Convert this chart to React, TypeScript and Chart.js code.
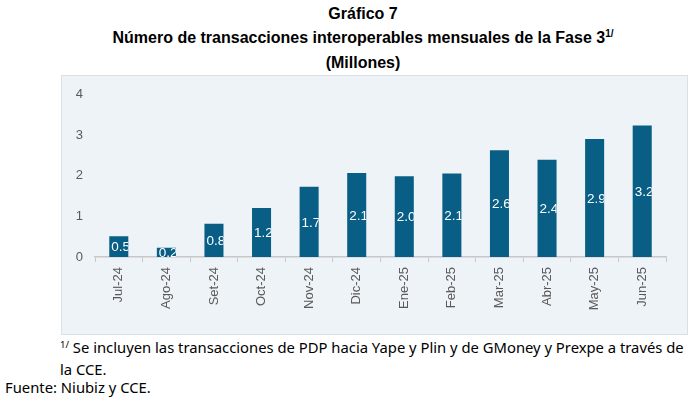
import React, { useEffect, useRef } from "react";
import { Chart, registerables } from "chart.js";

Chart.register(...registerables);

const categories = ["Jul-24", "Ago-24", "Set-24", "Oct-24", "Nov-24", "Dic-24", "Ene-25", "Feb-25", "Mar-25", "Abr-25", "May-25", "Jun-25"];
const values = [0.51, 0.23, 0.82, 1.21, 1.73, 2.07, 1.99, 2.06, 2.63, 2.4, 2.91, 3.24];
const yTicks = [0, 1, 2, 3, 4];

const BAR_COLOR = "#085E84";
const AXIS_TEXT = "#595959";
const SANS = '"Liberation Sans", Arial, sans-serif';

const barLabels = {
  id: "barLabels",
  afterDatasetsDraw(chart: any) {
    const ctx = chart.ctx;
    const meta = chart.getDatasetMeta(0);
    meta.data.forEach((bar: any, i: number) => {
      const { x, y, base, width } = bar.getProps(["x", "y", "base", "width"], true);
      const left = x - width / 2;
      ctx.save();
      ctx.beginPath();
      ctx.rect(left, y, width, base - y);
      ctx.clip();
      ctx.fillStyle = "#ffffff";
      ctx.font = `13.5px ${SANS}`;
      ctx.textBaseline = "middle";
      ctx.textAlign = "left";
      ctx.fillText(values[i].toFixed(1), left + 2, (y + base) / 2 + 1);
      ctx.restore();
    });
  },
};

export default function App() {
  const ref = useRef<HTMLCanvasElement | null>(null);

  useEffect(() => {
    if (!ref.current) return;
    const chart = new Chart(ref.current, {
      type: "bar",
      data: {
        labels: categories,
        datasets: [
          {
            data: values,
            backgroundColor: BAR_COLOR,
            barPercentage: 0.4,
            categoryPercentage: 1,
          },
        ],
      },
      options: {
        animation: false,
        responsive: false,
        maintainAspectRatio: false,
        devicePixelRatio: 1,
        layout: { padding: { top: 8, right: 22, left: 0, bottom: 0 } },
        plugins: {
          legend: { display: false },
          tooltip: { enabled: false },
          title: { display: false },
        },
        scales: {
          x: {
            grid: {
              display: true,
              drawOnChartArea: false,
              drawTicks: true,
              tickLength: 5,
              color: "#C8C8C8",
              offset: true,
            },
            border: { display: true, color: "#C8C8C8", width: 1.5 },
            ticks: {
              color: AXIS_TEXT,
              font: { family: SANS, size: 13 },
              minRotation: 90,
              maxRotation: 90,
              padding: 5,
            },
            afterFit(scale: any) {
              scale.height = 78;
            },
          },
          y: {
            min: 0,
            max: 4,
            afterBuildTicks(scale: any) {
              scale.ticks = yTicks.map((v) => ({ value: v }));
            },
            grid: { display: false, drawTicks: false },
            border: { display: false },
            ticks: {
              color: AXIS_TEXT,
              font: { family: SANS, size: 13 },
              padding: 12,
            },
            afterFit(scale: any) {
              scale.width = 34;
            },
          },
        },
      },
      plugins: [barLabels],
    });
    return () => chart.destroy();
  }, []);

  return (
    <div style={{ position: "absolute", left: 0, top: 0, width: 700, height: 399, background: "#ffffff", overflow: "hidden" }}>
      <div
        style={{
          position: "absolute",
          left: 0,
          top: 2,
          width: 726,
          textAlign: "center",
          fontFamily: SANS,
          fontWeight: "bold",
          fontSize: 16,
          lineHeight: "23.5px",
          color: "#000",
        }}
      >
        <div>Gráfico 7</div>
        <div>
          Número de transacciones interoperables mensuales de la Fase 3
          <span style={{ fontSize: 10, position: "relative", top: -6 }}>1/</span>
        </div>
        <div>(Millones)</div>
      </div>
      <div
        style={{
          position: "absolute",
          left: 61,
          top: 75,
          width: 627,
          height: 260,
          background: "#EEF3F8",
          border: "1px solid #DCDFE3",
          boxSizing: "border-box",
        }}
      />
      <canvas ref={ref} width={627} height={260} style={{ position: "absolute", left: 61, top: 75, width: 627, height: 260 }} />
      <div
        style={{
          position: "absolute",
          left: 60,
          top: 338,
          width: 640,
          fontFamily: '"Noto Sans", sans-serif',
          fontSize: 14.8,
          lineHeight: "19.5px",
          color: "#000",
          whiteSpace: "nowrap",
        }}
      >
        <div>
          <span style={{ fontSize: 9.5, position: "relative", top: -5 }}>1/</span> Se incluyen las transacciones de PDP hacia Yape y Plin y de GMoney y Prexpe a través de
        </div>
        <div>la CCE.</div>
      </div>
      <div
        style={{
          position: "absolute",
          left: 5,
          top: 378,
          fontFamily: '"Noto Sans", sans-serif',
          fontSize: 14.8,
          lineHeight: "19.5px",
          color: "#000",
          whiteSpace: "nowrap",
        }}
      >
        Fuente: Niubiz y CCE.
      </div>
    </div>
  );
}
